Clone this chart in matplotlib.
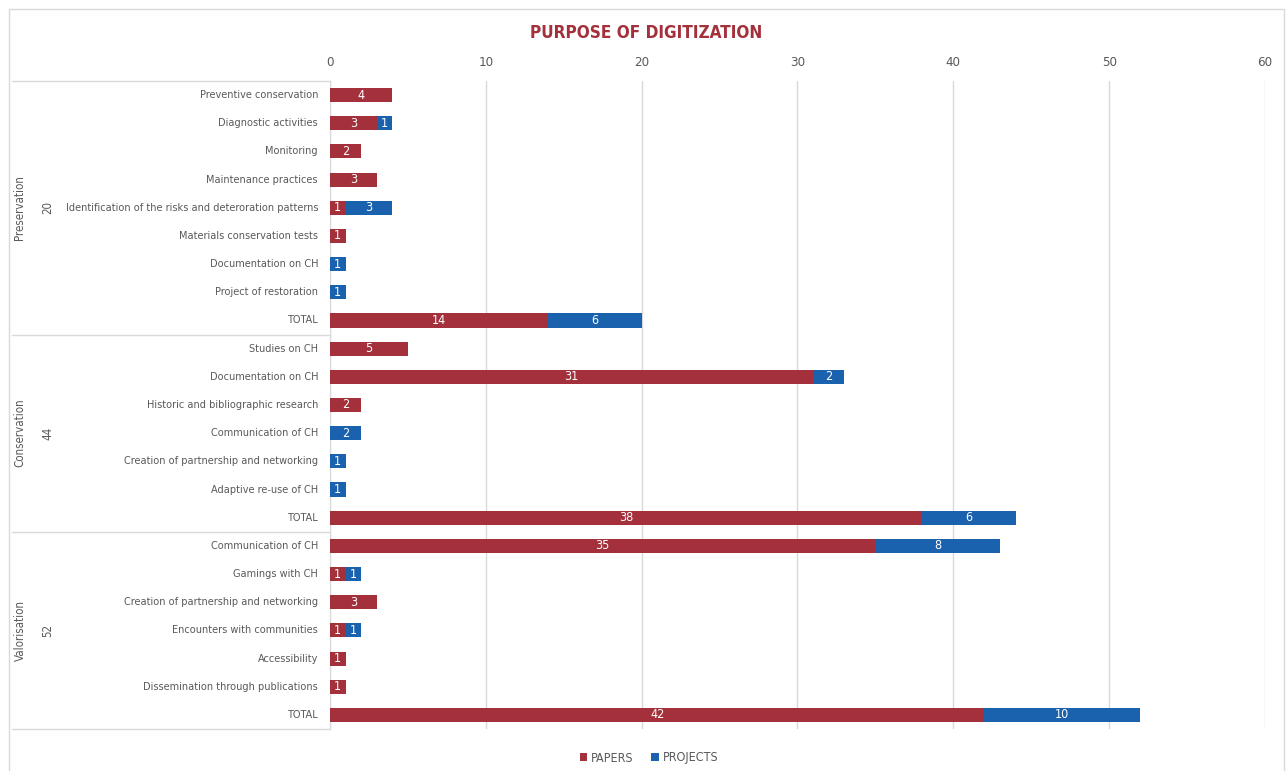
import matplotlib
matplotlib.use("Agg")
import matplotlib.pyplot as plt
import matplotlib.transforms as mtransforms
from matplotlib import font_manager
from matplotlib.lines import Line2D
from matplotlib.patches import Rectangle

# données
groups = ["Preservation", "Conservation", "Valorisation"]
group_totals = [20, 44, 52]
group_sizes = [9, 7, 7]

categories = [
    "Preventive conservation", "Diagnostic activities", "Monitoring",
    "Maintenance practices", "Identification of the risks and deteroration patterns",
    "Materials conservation tests", "Documentation on CH", "Project of restoration", "TOTAL",
    "Studies on CH", "Documentation on CH", "Historic and bibliographic research",
    "Communication of CH", "Creation of partnership and networking",
    "Adaptive re-use of CH", "TOTAL",
    "Communication of CH", "Gamings with CH", "Creation of partnership and networking",
    "Encounters with communities", "Accessibility",
    "Dissemination through publications", "TOTAL",
]
papers = [4, 3, 2, 3, 1, 1, 0, 0, 14,
          5, 31, 2, 0, 0, 0, 38,
          35, 1, 3, 1, 1, 1, 42]
projects = [0, 1, 0, 0, 3, 0, 1, 1, 6,
            0, 2, 0, 2, 1, 1, 6,
            8, 1, 0, 1, 0, 0, 10]

RED = "#A3303A"
BLUE = "#1B62AE"
GREY = "#595959"
LINE = "#D9D9D9"

# police étroite (DejaVu Sans Condensed si elle est là)
fonts = font_manager.fontManager.ttflist
if any(f.name == "Liberation Sans Narrow" for f in fonts):
    plt.rcParams["font.family"] = ["Liberation Sans Narrow", "DejaVu Sans"]
    FS = 9.5
else:
    plt.rcParams["font.family"] = ["DejaVu Sans"]
    plt.rcParams["font.stretch"] = "condensed"
    FS = 8.5
LAB = FS * 0.92

W, H = 1286, 771
fig = plt.figure(figsize=(W / 100, H / 100), dpi=100)
ax = fig.add_axes([330 / W, 1 - 729 / H, (1265 - 330) / W, (729 - 81) / H])

y = list(range(len(categories)))
ax.barh(y, papers, height=0.5, color=RED, label="PAPERS", zorder=3)
ax.barh(y, projects, left=papers, height=0.5, color=BLUE, label="PROJECTS", zorder=3)

# étiquettes de données
for i in y:
    if papers[i]:
        ax.text(papers[i] / 2, i, str(papers[i]), color="white", ha="center",
                va="center", fontsize=FS + 0.5, zorder=4)
    if projects[i]:
        ax.text(papers[i] + projects[i] / 2, i, str(projects[i]), color="white",
                ha="center", va="center", fontsize=FS + 0.5, zorder=4)

ax.set_xlim(0, 60)
ax.set_ylim(len(categories) - 0.5, -0.5)
ax.set_xticks(range(0, 61, 10))
ax.xaxis.tick_top()
ax.tick_params(axis="x", length=0, pad=9, labelsize=FS + 1, labelcolor=GREY)
ax.set_yticks([])
ax.grid(axis="x", color=LINE, linewidth=1, zorder=0)
for s in ["top", "right", "bottom"]:
    ax.spines[s].set_visible(False)
ax.spines["left"].set_color(LINE)

# axe des catégories hiérarchique
trans = mtransforms.blended_transform_factory(fig.transFigure, ax.transData)
for i, cat in enumerate(categories):
    ax.text(318 / W, i, cat, transform=trans, ha="right", va="center",
            fontsize=LAB, color=GREY)

start = 0
bounds = [-0.5]
for g, tot, n in zip(groups, group_totals, group_sizes):
    mid = start + (n - 1) / 2
    ax.text(20 / W, mid, g, transform=trans, rotation=90, ha="center",
            va="center", fontsize=LAB + 0.5, color=GREY)
    ax.text(48 / W, mid, str(tot), transform=trans, rotation=90, ha="center",
            va="center", fontsize=LAB + 0.5, color=GREY)
    start += n
    bounds.append(start - 0.5)
for b in bounds:
    ax.add_line(Line2D([12 / W, 330 / W], [b, b], transform=trans,
                       color=LINE, linewidth=1, clip_on=False))

# cadre du graphique
fig.add_artist(Rectangle((9 / W, -0.05), 1275 / W, 1.05 - 9 / H,
                         transform=fig.transFigure, fill=False,
                         edgecolor=LINE, linewidth=1))

fig.text(646 / W, 1 - 33 / H, "PURPOSE OF DIGITIZATION", ha="center",
         va="center", fontsize=FS * 1.45, fontweight="bold", color=RED)

fig.legend(loc="center", bbox_to_anchor=(649 / W, 1 - 758 / H), ncol=2,
           frameon=False, fontsize=FS + 0.5, labelcolor=GREY, handlelength=0.6,
           handleheight=0.6, handletextpad=0.3, columnspacing=1.4)

fig.savefig("out.png", dpi=100)
